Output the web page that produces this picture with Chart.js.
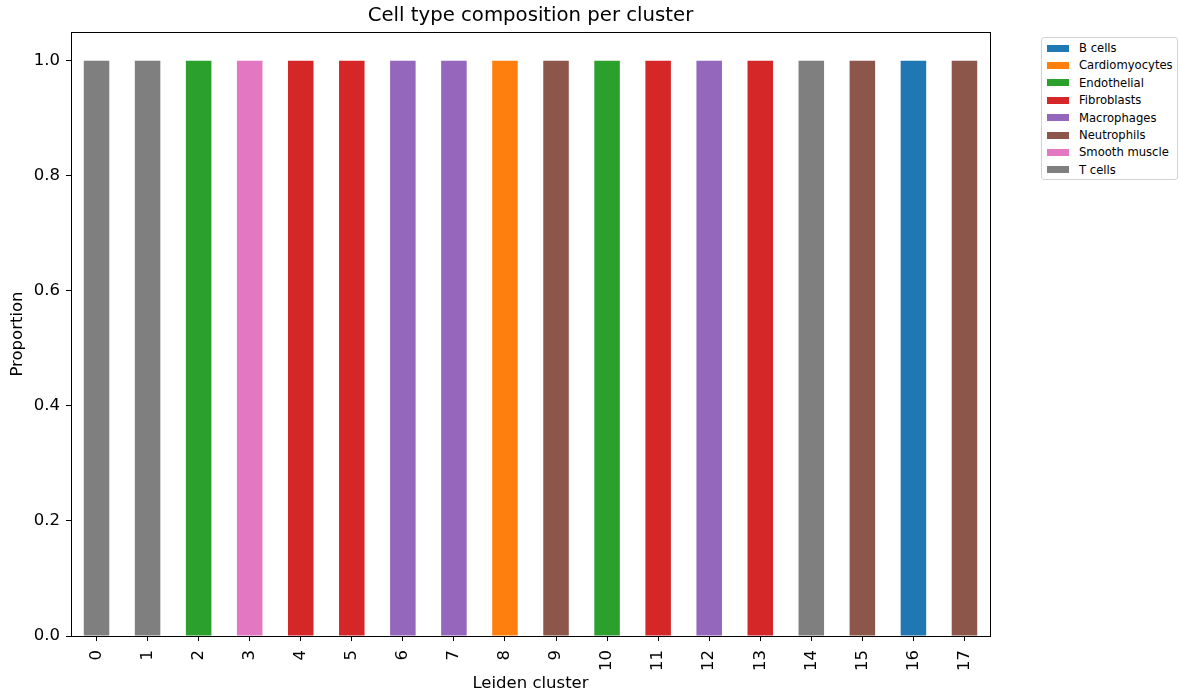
<!DOCTYPE html>
<html>
<head>
<meta charset="utf-8">
<script src="https://cdn.jsdelivr.net/npm/chart.js@4.4.1/dist/chart.umd.min.js"></script>
<style>
  html, body { margin: 0; padding: 0; background: #fff; }
  #wrap { position: relative; width: 1180px; height: 696px; font-family: "DejaVu Sans", sans-serif; }
  #c { position: absolute; left: 0; top: 0; }
  #title { position: absolute; left: 71px; width: 919px; top: 3px; text-align: center; font-size: 19.7px; line-height: 23px; color: #000; }
  #legend { position: absolute; left: 1041px; top: 37px; width: 137px; height: 143px; border: 1px solid #d3d3d3; border-radius: 3px; box-sizing: border-box; background: #fff; }
  .row { position: absolute; left: 5px; height: 14px; display: flex; align-items: center; font-size: 11.6px; color: #000; white-space: nowrap; }
  .sw { width: 22px; height: 7px; margin-right: 10px; flex: none; }
</style>
</head>
<body>
<div id="wrap">
  <canvas id="c" width="1180" height="696"></canvas>
  <div id="title">Cell type composition per cluster</div>
  <div id="legend"></div>
</div>
<script>
// Leiden clusters on the x axis
const clusters = ['0','1','2','3','4','5','6','7','8','9','10','11','12','13','14','15','16','17'];

// Cell types and their colours
const cellTypes = ['B cells','Cardiomyocytes','Endothelial','Fibroblasts','Macrophages','Neutrophils','Smooth muscle','T cells'];
const typeColors = ['#1f77b4','#ff7f0e','#2ca02c','#d62728','#9467bd','#8c564b','#e377c2','#7f7f7f'];

// Proportion of each cell type within each cluster
const bCells        = [0,0,0,0,0,0,0,0,0,0,0,0,0,0,0,0,1,0];
const cardiomyocytes= [0,0,0,0,0,0,0,0,1,0,0,0,0,0,0,0,0,0];
const endothelial   = [0,0,1,0,0,0,0,0,0,0,1,0,0,0,0,0,0,0];
const fibroblasts   = [0,0,0,0,1,1,0,0,0,0,0,1,0,1,0,0,0,0];
const macrophages   = [0,0,0,0,0,0,1,1,0,0,0,0,1,0,0,0,0,0];
const neutrophils   = [0,0,0,0,0,0,0,0,0,1,0,0,0,0,0,1,0,1];
const smoothMuscle  = [0,0,0,1,0,0,0,0,0,0,0,0,0,0,0,0,0,0];
const tCells        = [1,1,0,0,0,0,0,0,0,0,0,0,0,0,1,0,0,0];

const seriesValues = [bCells, cardiomyocytes, endothelial, fibroblasts, macrophages, neutrophils, smoothMuscle, tCells];

// Y axis tick values
const yTicks = [0.0, 0.2, 0.4, 0.6, 0.8, 1.0];

const datasets = cellTypes.map((name, i) => ({
  label: name,
  data: seriesValues[i],
  backgroundColor: typeColors[i],
  borderWidth: 0,
  barPercentage: 0.5,
  categoryPercentage: 1.0
}));

// Frame around the plotting area (all four spines)
const framePlugin = {
  id: 'frame',
  afterDatasetsDraw(chart) {
    const { ctx, chartArea: a } = chart;
    ctx.save();
    ctx.strokeStyle = '#000';
    ctx.lineWidth = 1;
    ctx.strokeRect(Math.round(a.left) + 0.5, Math.round(a.top) + 0.5, Math.round(a.right - a.left), Math.round(a.bottom - a.top));
    ctx.restore();
  }
};

const tickFont = { family: 'DejaVu Sans', size: 16.5 };
const labelFont = { family: 'DejaVu Sans', size: 16.5 };

new Chart(document.getElementById('c'), {
  type: 'bar',
  data: { labels: clusters, datasets },
  options: {
    responsive: false,
    animation: false,
    devicePixelRatio: 1,
    layout: { padding: { left: 0, top: 32, right: 190, bottom: 0 } },
    plugins: { legend: { display: false }, tooltip: { enabled: false }, title: { display: false } },
    scales: {
      x: {
        stacked: true,
        offset: true,
        grid: { display: true, drawOnChartArea: false, drawTicks: true, tickLength: 5, color: '#000', offset: false },
        border: { display: true, color: '#000' },
        ticks: { color: '#000', font: tickFont, minRotation: 90, maxRotation: 90, padding: 9, autoSkip: false },
        title: { display: true, text: 'Leiden cluster', color: '#000', font: labelFont, padding: { top: 0, bottom: 2 } },
        afterFit(scale) { scale.height = 60; }
      },
      y: {
        stacked: true,
        min: 0,
        max: 1.05,
        grid: { display: true, drawOnChartArea: false, drawTicks: true, tickLength: 5, color: '#000' },
        border: { display: true, color: '#000' },
        ticks: { color: '#000', font: tickFont, padding: 6, callback: v => Number(v).toFixed(1) },
        afterBuildTicks(scale) { scale.ticks = yTicks.map(v => ({ value: v })); },
        title: { display: true, text: 'Proportion', color: '#000', font: labelFont, padding: { top: 8, bottom: 0 } },
        afterFit(scale) { scale.width = 71; }
      }
    }
  },
  plugins: [framePlugin]
});

// Legend box, built from the same names and colours
const legend = document.getElementById('legend');
cellTypes.forEach((name, i) => {
  const row = document.createElement('div');
  row.className = 'row';
  row.style.top = (3 + i * 17.4) + 'px';
  const sw = document.createElement('div');
  sw.className = 'sw';
  sw.style.background = typeColors[i];
  const label = document.createElement('span');
  label.textContent = name;
  row.appendChild(sw);
  row.appendChild(label);
  legend.appendChild(row);
});
</script>
</body>
</html>
